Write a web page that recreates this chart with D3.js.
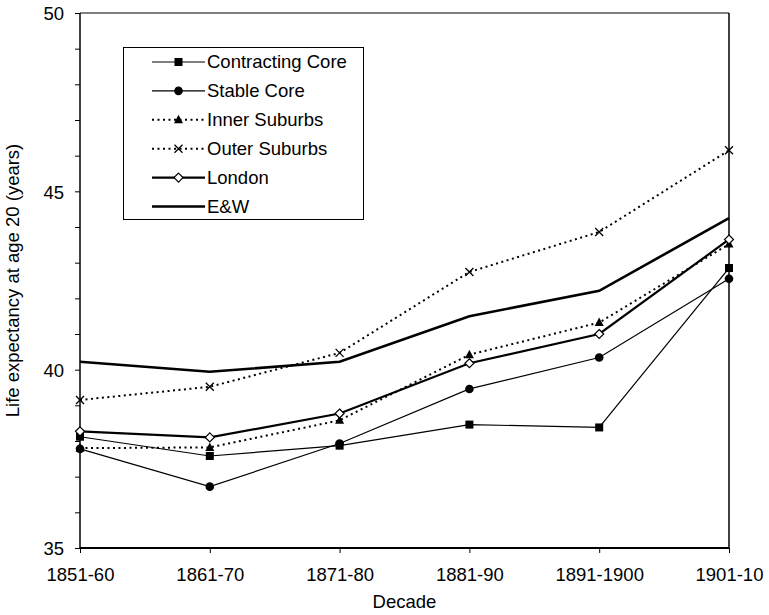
<!DOCTYPE html>
<html>
<head>
<meta charset="utf-8">
<script src="https://cdn.jsdelivr.net/npm/d3@7"></script>
<style>
  html, body { margin: 0; padding: 0; background: #fff; }
  svg { display: block; }
  text { font-family: "Liberation Sans", Arial, sans-serif; fill: #000; }
</style>
</head>
<body>
<svg id="chart" width="769" height="615"></svg>
<script>
const decades = ["1851-60", "1861-70", "1871-80", "1881-90", "1891-1900", "1901-10"];
const contractingCore = [38.12, 37.58, 37.87, 38.46, 38.38, 42.85];
const stableCore      = [37.78, 36.72, 37.93, 39.46, 40.34, 42.55];
const innerSuburbs    = [37.80, 37.82, 38.58, 40.42, 41.32, 43.52];
const outerSuburbs    = [39.15, 39.52, 40.47, 42.74, 43.86, 46.15];
const london          = [38.27, 38.10, 38.77, 40.18, 41.00, 43.65];
const englandWales    = [40.22, 39.94, 40.22, 41.50, 42.21, 44.25];
const yTicks = [35, 40, 45, 50];
const seriesNames = ["Contracting Core", "Stable Core", "Inner Suburbs", "Outer Suburbs", "London", "E&W"];

const FS = 18.5;
const svg = d3.select("#chart");
const L = 80, R = 729, T = 13, B = 548;
const x = d3.scalePoint().domain(decades).range([L, R]);
const y = d3.scaleLinear().domain([35, 50]).range([B, T]);

const series = [
  { name: seriesNames[0], values: contractingCore, width: 1.2, dash: null, marker: "square" },
  { name: seriesNames[1], values: stableCore, width: 1.2, dash: null, marker: "circle" },
  { name: seriesNames[2], values: innerSuburbs, width: 2, dash: "2,3.5", marker: "triangle" },
  { name: seriesNames[3], values: outerSuburbs, width: 2, dash: "2,3.5", marker: "cross" },
  { name: seriesNames[4], values: london, width: 2.2, dash: null, marker: "diamond" },
  { name: seriesNames[5], values: englandWales, width: 2.6, dash: null, marker: null }
];

// plot frame: top grey, right black
svg.append("line").attr("x1", L).attr("x2", R).attr("y1", T).attr("y2", T)
  .attr("stroke", "#808080").attr("stroke-width", 2);
svg.append("line").attr("x1", R).attr("x2", R).attr("y1", T).attr("y2", B)
  .attr("stroke", "#000").attr("stroke-width", 1.5);

// Y axis
const yAxis = d3.axisLeft(y).tickValues(d3.range(35, 51, 1)).tickSize(5)
  .tickFormat(d => yTicks.includes(d) ? d : "");
const gy = svg.append("g").attr("transform", `translate(${L},0)`).call(yAxis);
gy.select(".domain").attr("stroke", "#000").attr("stroke-width", 1.5).attr("d", `M0,${T}V${B}`);
gy.selectAll(".tick line").attr("stroke", "#000").attr("stroke-width", 1);
gy.selectAll(".tick text").attr("font-size", FS).attr("x", -16).attr("dy", "0.36em")
  .style("font-family", "'Liberation Sans', Arial, sans-serif");

// X axis
const xAxis = d3.axisBottom(x).tickSize(5).tickPadding(15);
const gx = svg.append("g").attr("transform", `translate(0,${B})`).call(xAxis);
gx.select(".domain").attr("stroke", "#000").attr("stroke-width", 2.2).attr("d", `M${L},0H${R}`);
gx.selectAll(".tick line").attr("stroke", "#000").attr("stroke-width", 1);
gx.selectAll(".tick text").attr("font-size", FS)
  .style("font-family", "'Liberation Sans', Arial, sans-serif");

// Axis titles
svg.append("text").attr("x", (L + R) / 2).attr("y", 608).attr("text-anchor", "middle")
  .attr("font-size", FS).text("Decade");
svg.append("text").attr("transform", `translate(19,${(T + B) / 2}) rotate(-90)`)
  .attr("text-anchor", "middle").attr("font-size", FS).text("Life expectancy at age 20 (years)");

// markers
function drawMarker(g, type, cx, cy) {
  if (type === "square") {
    g.append("rect").attr("x", cx - 4).attr("y", cy - 4).attr("width", 8).attr("height", 8).attr("fill", "#000");
  } else if (type === "circle") {
    g.append("circle").attr("cx", cx).attr("cy", cy).attr("r", 4.3).attr("fill", "#000");
  } else if (type === "triangle") {
    g.append("path").attr("d", `M${cx},${cy - 5}L${cx + 4.5},${cy + 3.5}L${cx - 4.5},${cy + 3.5}Z`).attr("fill", "#000");
  } else if (type === "cross") {
    g.append("path").attr("d", `M${cx - 4},${cy - 4}L${cx + 4},${cy + 4}M${cx - 4},${cy + 4}L${cx + 4},${cy - 4}`)
      .attr("stroke", "#000").attr("stroke-width", 1.3).attr("fill", "none");
  } else if (type === "diamond") {
    g.append("path").attr("d", `M${cx},${cy - 4.5}L${cx + 4.5},${cy}L${cx},${cy + 4.5}L${cx - 4.5},${cy}Z`)
      .attr("fill", "#fff").attr("stroke", "#000").attr("stroke-width", 1.2);
  }
}

const line = d3.line().x((d, i) => x(decades[i])).y(d => y(d));
const plot = svg.append("g");
series.slice().reverse().forEach(s => {
  plot.append("path").attr("d", line(s.values)).attr("fill", "none")
    .attr("stroke", "#000").attr("stroke-width", s.width)
    .attr("stroke-dasharray", s.dash);
});
series.forEach(s => {
  if (!s.marker) return;
  const g = plot.append("g");
  s.values.forEach((v, i) => drawMarker(g, s.marker, x(decades[i]), y(v)));
});

// Legend
const lg = svg.append("g");
lg.append("rect").attr("x", 123.5).attr("y", 47.5).attr("width", 240).attr("height", 172)
  .attr("fill", "#fff").attr("stroke", "#000").attr("stroke-width", 1);
series.forEach((s, i) => {
  const yy = 62 + i * 28.9;
  lg.append("line").attr("x1", 152).attr("x2", 205).attr("y1", yy).attr("y2", yy)
    .attr("stroke", "#000").attr("stroke-width", s.width).attr("stroke-dasharray", s.dash);
  if (s.marker) drawMarker(lg, s.marker, 178.5, yy);
  lg.append("text").attr("x", 207).attr("y", yy).attr("dy", "0.35em")
    .attr("font-size", FS).text(s.name);
});
</script>
</body>
</html>
